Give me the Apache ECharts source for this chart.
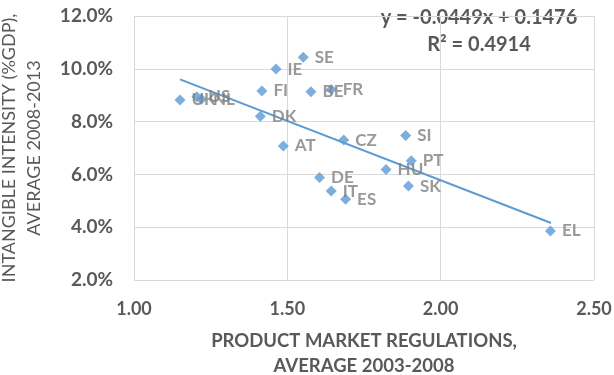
<!DOCTYPE html>
<html>
<head>
<meta charset="utf-8">
<script src="https://cdn.jsdelivr.net/npm/echarts@6/dist/echarts.min.js"></script>
<style>html,body{margin:0;padding:0;background:#fff}#c{width:614px;height:375px}</style>
</head>
<body>
<div id="c"></div>
<script>
const countries = ['UK','US','NL','IE','SE','FI','BE','FR','DK','AT','CZ','SI','PT','HU','SK','DE','IT','ES','EL'];
const pmr = [1.15,1.205,1.22,1.463,1.552,1.417,1.577,1.643,1.412,1.487,1.684,1.886,1.904,1.822,1.895,1.605,1.643,1.690,2.358];
const intangible = [8.82,8.94,8.85,9.99,10.44,9.16,9.13,9.22,8.20,7.08,7.30,7.47,6.52,6.19,5.56,5.88,5.37,5.06,3.86];
const trendX = [1.15, 2.36];
const trendY = [9.60, 4.16];
const xTicks = [1.0, 1.5, 2.0, 2.5];
const yTicks = [2, 4, 6, 8, 10, 12];
const equation = 'y = -0.0449x + 0.1476';
const rsq = 'R² = 0.4914';

const font = 'Lato, "Open Sans", sans-serif';
const chart = echarts.init(document.getElementById('c'), null, {renderer:'canvas'});
chart.setOption({
  animation:false,
  textStyle:{fontFamily:font},
  grid:{left:134,right:20,top:16,bottom:95,containLabel:false,outerBoundsMode:'none'},
  xAxis:{
    type:'value',min:xTicks[0],max:xTicks[xTicks.length-1],interval:0.5,
    name:'PRODUCT MARKET REGULATIONS,\nAVERAGE 2003-2008',
    nameLocation:'middle',nameGap:49,
    nameTextStyle:{color:'#595959',fontWeight:'bold',fontSize:18.5,fontFamily:font,lineHeight:25},
    axisLine:{show:false},axisTick:{show:false},
    axisLabel:{color:'#595959',fontWeight:'bold',fontSize:18,fontFamily:font,margin:20,formatter:v=>v.toFixed(2)},
    splitLine:{show:true,lineStyle:{color:'#d9d9d9',width:1}}
  },
  yAxis:{
    type:'value',min:yTicks[0],max:yTicks[yTicks.length-1],interval:2,
    name:'INTANGIBLE INTENSITY (%GDP),\nAVERAGE 2008-2013',
    nameLocation:'middle',nameGap:87,nameRotate:90,
    nameTextStyle:{color:'#595959',fontSize:18,fontFamily:font,lineHeight:25},
    axisLine:{show:false},axisTick:{show:false},
    axisLabel:{color:'#595959',fontWeight:'bold',fontSize:19,fontFamily:font,margin:21,formatter:v=>v.toFixed(1)+'%'},
    splitLine:{show:true,lineStyle:{color:'#d9d9d9',width:1}}
  },
  series:[
    {
      type:'line',
      data:trendX.map((x,i)=>[x,trendY[i]]),
      symbol:'none',
      lineStyle:{color:'#5b9bd5',width:2},
      z:2
    },
    {
      type:'scatter',
      data:pmr.map((x,i)=>({value:[x,intangible[i]],name:countries[i]})),
      symbol:'diamond',symbolSize:11,
      itemStyle:{color:'#5b9bd5'},
      label:{show:true,position:'right',distance:6,formatter:p=>p.name,
        color:'#7f7f7f',fontWeight:'bold',fontSize:17,fontFamily:font},
      z:3
    }
  ],
  graphic:[
    {type:'text',x:479,y:18,style:{text:equation,fill:'#595959',font:'bold 20px '+font,textAlign:'center',textVerticalAlign:'middle'}},
    {type:'text',x:479,y:45,style:{text:rsq,fill:'#595959',font:'bold 20px '+font,textAlign:'center',textVerticalAlign:'middle'}}
  ]
});
</script>
</body>
</html>
